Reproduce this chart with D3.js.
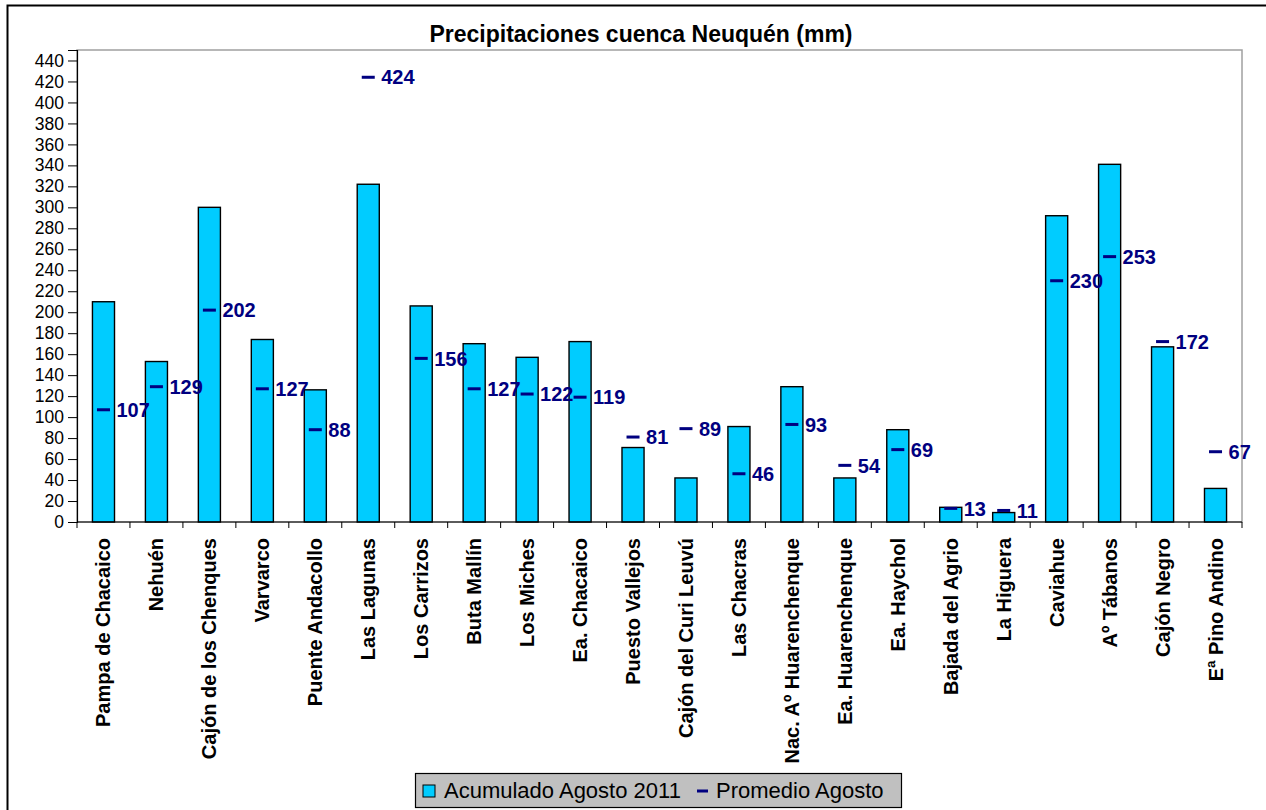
<!DOCTYPE html>
<html>
<head>
<meta charset="utf-8">
<script src="https://cdn.jsdelivr.net/npm/d3@7"></script>
<style>
  body { margin: 0; background: #fff; }
  svg { display: block; font-family: "Liberation Sans", Arial, sans-serif; }
</style>
</head>
<body>
<div id="chart"></div>
<script>
(function () {

  // station names, as they appear under the bars
  const stations = ['Pampa de Chacaico', 'Nehuén', 'Cajón de los Chenques', 'Varvarco',
    'Puente Andacollo', 'Las Lagunas', 'Los Carrizos', 'Buta Mallín', 'Los Miches',
    'Ea. Chacaico', 'Puesto Vallejos', 'Cajón del Curi Leuvú', 'Las Chacras',
    'Nac. Aº Huarenchenque', 'Ea. Huarenchenque', 'Ea. Haychol', 'Bajada del Agrio',
    'La Higuera', 'Caviahue', 'Aº Tábanos', 'Cajón Negro', 'Eª Pino Andino']

  // accumulated rain, August 2011
  const acumulado = [210, 153, 300, 174, 126, 322, 206, 170, 157, 172, 71, 42, 91, 129,
    42, 88, 14, 9, 292, 341, 167, 32]

  // August average (labelled markers)
  const promedio = [107, 129, 202, 127, 88, 424, 156, 127, 122, 119, 81, 89, 46, 93,
    54, 69, 13, 11, 230, 253, 172, 67]

  const yTicks = d3.range(0, 441, 20)

  const W = 1266, H = 810
  const plot = { left: 77, right: 1242, top: 50, bottom: 522 }

  const svg = d3.select('#chart').append('svg')
    .attr('width', W)
    .attr('height', H)

  // chart area border
  svg.append('rect')
    .attr('x', 7.5).attr('y', 5.5)
    .attr('width', 1400).attr('height', 1000)
    .attr('fill', '#fff')
    .attr('stroke', '#000')
    .attr('stroke-width', 2)

  svg.append('text')
    .attr('x', 641)
    .attr('y', 42)
    .attr('text-anchor', 'middle')
    .attr('font-size', 23)
    .attr('font-weight', 'bold')
    .text('Precipitaciones cuenca Neuquén (mm)')

  const xScale = d3.scaleBand()
    .domain(stations)
    .range([plot.left, plot.right])

  const yScale = d3.scaleLinear()
    .domain([0, 450])
    .range([plot.bottom, plot.top])

  const bw = xScale.bandwidth()
  const barW = bw / 2.4   // excel gap width 140%

  // plot area frame (grey)
  svg.append('rect')
    .attr('x', plot.left).attr('y', plot.top)
    .attr('width', plot.right - plot.left)
    .attr('height', plot.bottom - plot.top)
    .attr('fill', '#fff')
    .attr('stroke', '#a0a0a0')
    .attr('stroke-width', 1.5)

  // bars
  svg.append('g')
    .selectAll('rect')
    .data(acumulado)
    .join('rect')
    .attr('x', (d, i) => xScale(stations[i]) + (bw - barW) / 2)
    .attr('y', d => yScale(d))
    .attr('width', barW)
    .attr('height', d => yScale(0) - yScale(d))
    .attr('fill', '#00ccff')
    .attr('stroke', '#000')
    .attr('stroke-width', 1.4)

  // y axis
  const yAxis = d3.axisLeft(yScale)
    .tickValues(yTicks)
    .tickSize(9)
    .tickPadding(4)
  const yg = svg.append('g')
    .attr('transform', 'translate(' + plot.left + ',0)')
    .call(yAxis)
  yg.select('.domain').attr('stroke', '#000').attr('stroke-width', 1.2)
  yg.selectAll('.tick line').attr('stroke', '#000')
  yg.selectAll('.tick text')
    .attr('font-size', 17.5)
    .attr('font-family', '"Liberation Sans", Arial, sans-serif')
    .attr('fill', '#000')

  // x axis: ticks on category boundaries
  const xg = svg.append('g')
  xg.append('line')
    .attr('x1', plot.left).attr('x2', plot.right)
    .attr('y1', plot.bottom).attr('y2', plot.bottom)
    .attr('stroke', '#000')
    .attr('stroke-width', 1.2)
  xg.selectAll('.xtick')
    .data(stations.concat(['end']))
    .join('line')
    .attr('class', 'xtick')
    .attr('x1', d => d === 'end' ? plot.right : xScale(d))
    .attr('x2', d => d === 'end' ? plot.right : xScale(d))
    .attr('y1', plot.bottom)
    .attr('y2', plot.bottom + 6)
    .attr('stroke', '#000')

  xg.selectAll('.xlabel')
    .data(stations)
    .join('text')
    .attr('class', 'xlabel')
    .attr('transform', d => 'translate(' + (xScale(d) + bw / 2) + ',' + (plot.bottom + 16) + ') rotate(-90)')
    .attr('dy', '0.35em')
    .attr('text-anchor', 'end')
    .attr('font-size', 20)
    .attr('font-weight', 'bold')
    .text(d => d)

  // average markers + labels
  const marks = svg.append('g')
  marks.selectAll('rect')
    .data(promedio)
    .join('rect')
    .attr('x', (d, i) => xScale(stations[i]) + bw / 2 - 6.5)
    .attr('y', d => yScale(d) - 1.5)
    .attr('width', 13)
    .attr('height', 3)
    .attr('fill', '#000080')

  marks.selectAll('text')
    .data(promedio)
    .join('text')
    .attr('x', (d, i) => xScale(stations[i]) + bw / 2 + 13)
    .attr('y', d => yScale(d))
    .attr('dy', '0.36em')
    .attr('font-size', 20)
    .attr('font-weight', 'bold')
    .attr('fill', '#000080')
    .text(d => d)

  // legend
  const legend = svg.append('g')
  legend.append('rect')
    .attr('x', 415.5).attr('y', 773.5)
    .attr('width', 486).attr('height', 34)
    .attr('fill', '#c0c0c0')
    .attr('stroke', '#000')
    .attr('stroke-width', 1.2)
  legend.append('rect')
    .attr('x', 423).attr('y', 785)
    .attr('width', 12).attr('height', 12)
    .attr('fill', '#00ccff')
    .attr('stroke', '#000')
  legend.append('text')
    .attr('x', 444).attr('y', 798)
    .attr('font-size', 22)
    .text('Acumulado Agosto 2011')
  legend.append('rect')
    .attr('x', 697).attr('y', 789.5)
    .attr('width', 11).attr('height', 3)
    .attr('fill', '#000080')
  legend.append('text')
    .attr('x', 716).attr('y', 798)
    .attr('font-size', 22)
    .text('Promedio Agosto')

})();
</script>
</body>
</html>
